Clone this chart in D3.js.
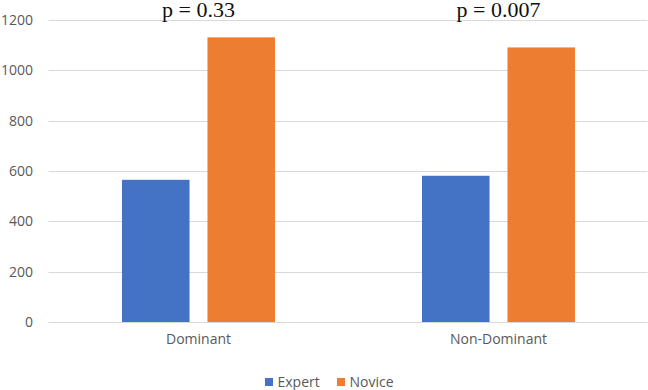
<!DOCTYPE html>
<html>
<head>
<meta charset="utf-8">
<script src="https://cdn.jsdelivr.net/npm/d3@7"></script>
<style>
  html, body { margin: 0; padding: 0; background: #fff; }
  svg { display: block; }
</style>
</head>
<body>
<script>
const categories = ["Dominant", "Non-Dominant"];
const seriesNames = ["Expert", "Novice"];
const expertValues = [565, 581];
const noviceValues = [1131, 1091];
const pLabels = ["p = 0.33", "p = 0.007"];
const yTicks = [0, 200, 400, 600, 800, 1000, 1200];
const colors = ["#4472C4", "#ED7D31"];

const W = 648, H = 390;
const x0 = 48.5, x1 = 648.5, yTop = 20, yBot = 322;
const labelFont = "'Open Sans', 'Liberation Sans', sans-serif";

const svg = d3.select("body").append("svg").attr("width", W).attr("height", H);

const x = d3.scaleBand().domain(categories).range([x0, x1]).paddingInner(0).paddingOuter(0);
const xs = d3.scaleBand().domain(seriesNames).range([0, x.bandwidth()]).paddingInner(0.21).paddingOuter(0.86);
const y = d3.scaleLinear().domain([0, 1200]).range([yBot, yTop]);

// gridlines
svg.append("g").selectAll("line").data(yTicks).join("line")
  .attr("x1", x0).attr("x2", x1 - 1)
  .attr("y1", d => Math.round(y(d)) + 0.5).attr("y2", d => Math.round(y(d)) + 0.5)
  .attr("stroke", "#d9d9d9").attr("stroke-width", 1);

// y axis labels
const yAxis = d3.axisLeft(y).tickValues(yTicks).tickFormat(d3.format("d")).tickSize(0).tickPadding(0);
const gy = svg.append("g").attr("transform", `translate(33,0)`).call(yAxis);
gy.select(".domain").remove();
gy.selectAll("text").attr("fill", "#595959").style("font-family", labelFont).style("font-size", "14px");

// bars
const rows = categories.map((c, i) => ({ cat: c, vals: [expertValues[i], noviceValues[i]] }));
const groups = svg.append("g").selectAll("g").data(rows).join("g")
  .attr("transform", d => `translate(${x(d.cat)},0)`);
groups.selectAll("rect").data(d => d.vals.map((v, j) => ({ s: seriesNames[j], v, j })))
  .join("rect")
  .attr("x", d => xs(d.s)).attr("width", xs.bandwidth())
  .attr("y", d => y(d.v)).attr("height", d => y(0) - y(d.v))
  .attr("fill", d => colors[d.j]);

// x axis labels
const xAxis = d3.axisBottom(x).tickSize(0).tickPadding(0);
const gx = svg.append("g").attr("transform", `translate(0,334)`).call(xAxis);
gx.select(".domain").remove();
gx.selectAll("text").attr("fill", "#595959").style("font-family", labelFont).style("font-size", "14px");

// p labels
svg.append("g").selectAll("text").data(categories).join("text")
  .attr("x", d => x(d) + x.bandwidth() / 2).attr("y", 17)
  .attr("text-anchor", "middle")
  .style("font-family", "'Liberation Serif', 'Times New Roman', serif")
  .style("font-size", "22px").attr("fill", "#111")
  .text((d, i) => pLabels[i]);

// legend
const legend = svg.append("g");
const legX = [265, 337];
seriesNames.forEach((s, i) => {
  legend.append("rect").attr("x", legX[i]).attr("y", 378).attr("width", 8).attr("height", 8).attr("fill", colors[i]);
  legend.append("text").attr("x", legX[i] + 12.5).attr("y", 387)
    .style("font-family", labelFont).style("font-size", "14px")
    .attr("fill", "#595959").text(s);
});
</script>
</body>
</html>
